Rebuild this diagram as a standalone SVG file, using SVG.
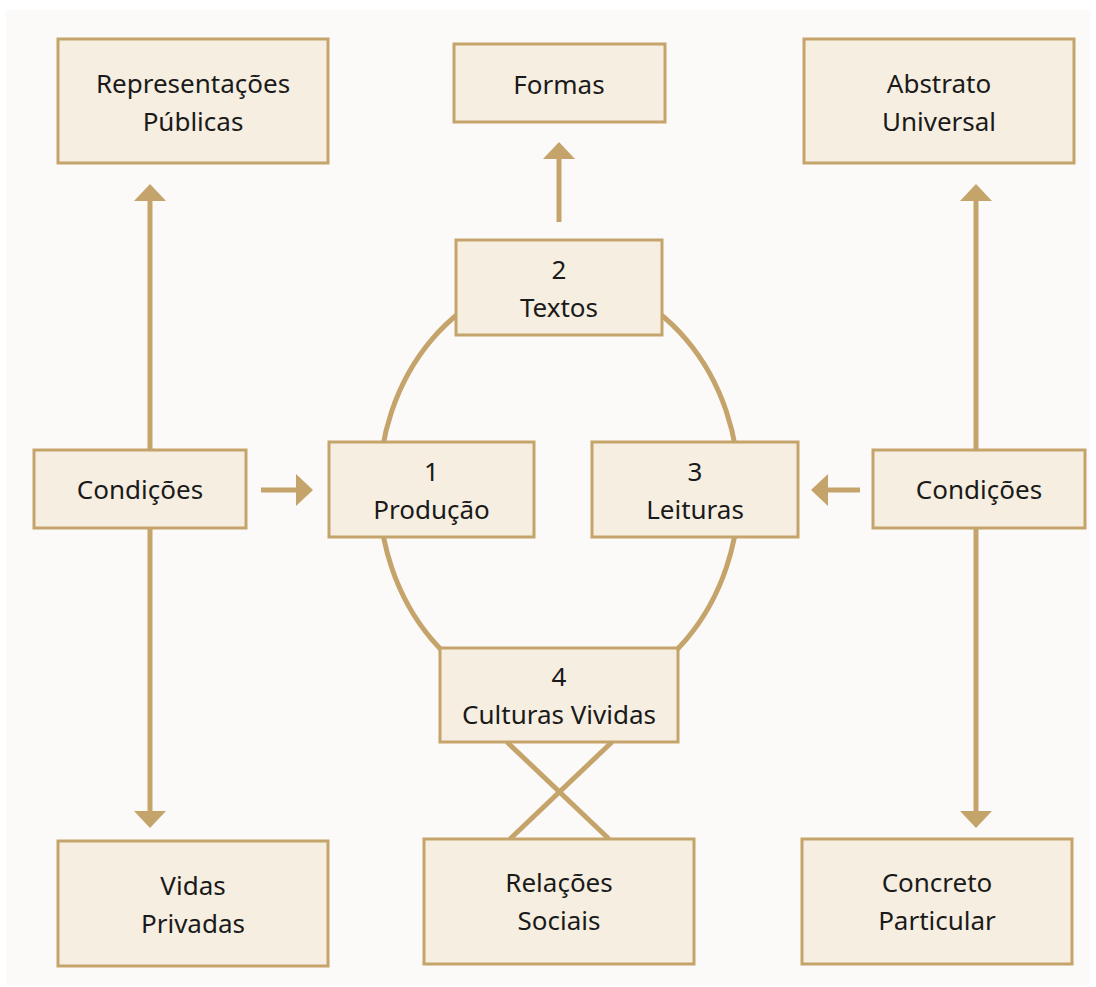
<svg xmlns="http://www.w3.org/2000/svg" width="1096" height="987" viewBox="0 0 1096 987">
<defs>
<style>
.box{fill:#F6EEE0;stroke:#C4A46B;stroke-width:3}
.t{font-family:"Noto Sans",Lato,"Liberation Sans",sans-serif;font-size:26px;fill:#1a1a1a;text-anchor:middle}
.ln{stroke:#C4A46B;stroke-width:5;fill:none}
.ah{fill:#C4A46B}
</style>
</defs>
<rect x="0" y="0" width="1096" height="987" fill="#ffffff"/>
<rect x="6" y="10" width="1084" height="975" fill="#FCFAF8"/>
<g id="connectors">
<ellipse class="ln" cx="559" cy="489.5" rx="180" ry="212"/>
<line class="ln" x1="507" y1="742" x2="609" y2="839"/>
<line class="ln" x1="612" y1="742" x2="510" y2="839"/>
<line class="ln" x1="150" y1="450" x2="150" y2="198"/>
<polygon class="ah" points="150,184 134,201 166,201"/>
<line class="ln" x1="150" y1="528" x2="150" y2="812"/>
<polygon class="ah" points="150,828 134,811 166,811"/>
<line class="ln" x1="976" y1="450" x2="976" y2="198"/>
<polygon class="ah" points="976,184 960,201 992,201"/>
<line class="ln" x1="976" y1="528" x2="976" y2="812"/>
<polygon class="ah" points="976,828 960,811 992,811"/>
<line class="ln" x1="559" y1="222" x2="559" y2="156"/>
<polygon class="ah" points="559,142 543,159 575,159"/>
<line class="ln" x1="261" y1="490" x2="297" y2="490"/>
<polygon class="ah" points="313,490 296,474 296,506"/>
<line class="ln" x1="860" y1="490" x2="826" y2="490"/>
<polygon class="ah" points="811,490 828,474 828,506"/>
</g>
<g id="rep-publicas"><rect class="box" x="58" y="39" width="270" height="124"/><text class="t" x="193" y="93">Representações</text><text class="t" x="193" y="131">Públicas</text></g>
<g id="formas"><rect class="box" x="454" y="44" width="211" height="78"/><text class="t" x="559" y="94">Formas</text></g>
<g id="abstrato"><rect class="box" x="804" y="39" width="270" height="124"/><text class="t" x="939" y="93">Abstrato</text><text class="t" x="939" y="131">Universal</text></g>
<g id="textos"><rect class="box" x="456" y="240" width="206" height="95"/><text class="t" x="559" y="279">2</text><text class="t" x="559" y="317">Textos</text></g>
<g id="condicoes-l"><rect class="box" x="34" y="450" width="212" height="78"/><text class="t" x="140" y="499">Condições</text></g>
<g id="producao"><rect class="box" x="329" y="442" width="205" height="95"/><text class="t" x="431.500" y="481">1</text><text class="t" x="431.500" y="519">Produção</text></g>
<g id="leituras"><rect class="box" x="592" y="442" width="206" height="95"/><text class="t" x="695" y="481">3</text><text class="t" x="695" y="519">Leituras</text></g>
<g id="condicoes-r"><rect class="box" x="873" y="450" width="212" height="78"/><text class="t" x="979" y="499">Condições</text></g>
<g id="culturas"><rect class="box" x="440" y="648" width="238" height="94"/><text class="t" x="559" y="686">4</text><text class="t" x="559" y="724">Culturas Vividas</text></g>
<g id="vidas"><rect class="box" x="58" y="841" width="270" height="125"/><text class="t" x="193" y="895">Vidas</text><text class="t" x="193" y="933">Privadas</text></g>
<g id="relacoes"><rect class="box" x="424" y="839" width="270" height="125"/><text class="t" x="559" y="892">Relações</text><text class="t" x="559" y="930">Sociais</text></g>
<g id="concreto"><rect class="box" x="802" y="839" width="270" height="125"/><text class="t" x="937" y="892">Concreto</text><text class="t" x="937" y="930">Particular</text></g>
</svg>
